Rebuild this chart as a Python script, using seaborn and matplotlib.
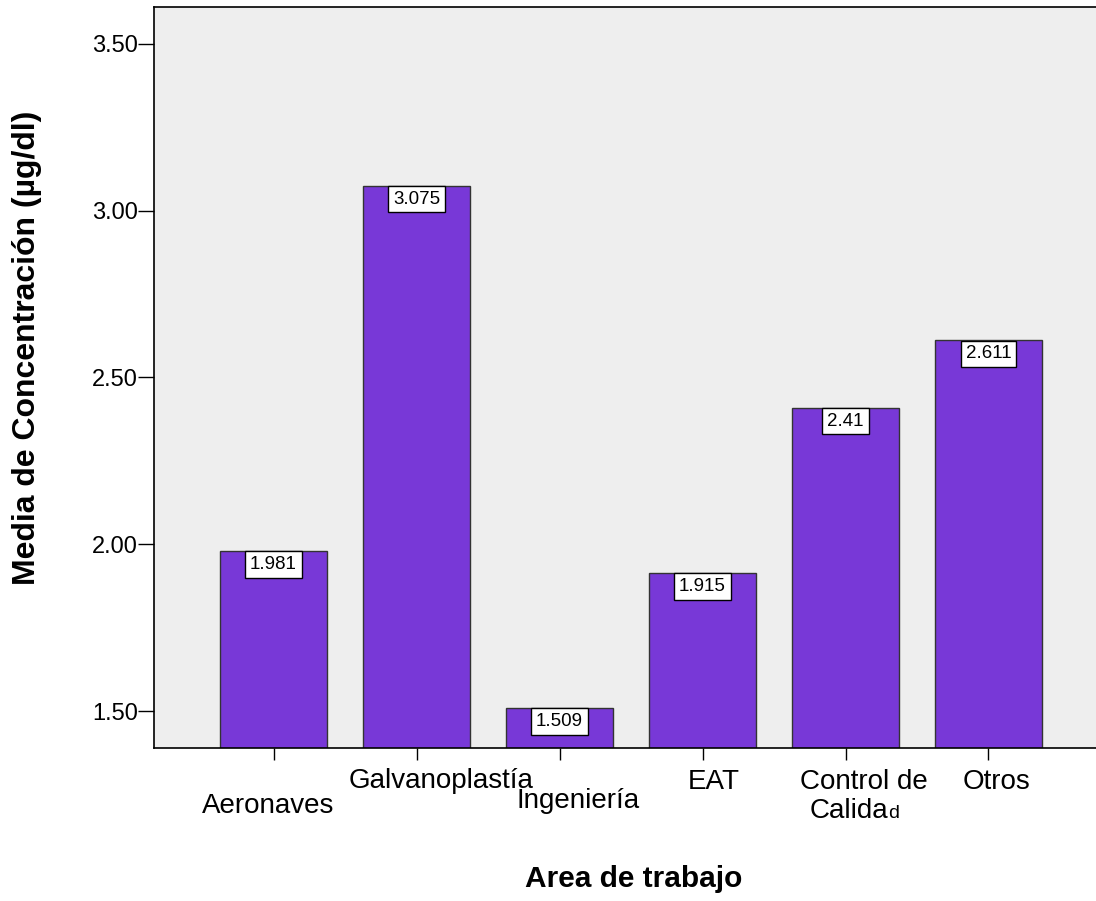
import matplotlib
matplotlib.use('Agg')
import matplotlib.pyplot as plt
import seaborn as sns

# data
areas = ['Aeronaves', 'Galvanoplastía', 'Ingeniería', 'EAT', 'Control de Calidad', 'Otros']
medias = [1.981, 3.075, 1.509, 1.915, 2.41, 2.611]
yticks = [1.50, 2.00, 2.50, 3.00, 3.50]

# hand placed category labels (SPSS style): offset in px from tick, baseline px from top
label_dx = [-5, 25, 19, 11, 18, 8]
label_base = [813, 788, 808, 789, 789, 789]

W, H = 1096, 901
sns.set_style('white')
plt.rcParams['font.family'] = ['Liberation Sans', 'DejaVu Sans']
plt.rcParams['text.color'] = 'black'
plt.rcParams['xtick.color'] = 'black'
plt.rcParams['ytick.color'] = 'black'
plt.rcParams['axes.labelcolor'] = 'black'

fig = plt.figure(figsize=(W / 100, H / 100), dpi=100)
ax = fig.add_axes([154 / W, 1 - 748.3 / H, (1118 - 154) / W, (748.3 - 6.5) / H])
ax.set_facecolor('#EEEEEE')

sns.barplot(x=areas, y=medias, color='#7838D7', saturation=1, width=0.752,
            edgecolor='#333333', linewidth=1, ax=ax, zorder=2)

ax.set_xlim(-0.8357, 5.9056)
ax.set_ylim(1.389, 3.6115)
ax.set_yticks(yticks)
ax.set_yticklabels([f'{t:.2f}' for t in yticks])
ax.tick_params(axis='y', direction='out', length=11.5, width=1, pad=0,
               labelsize=17, colors='black', left=True)
ax.tick_params(axis='x', direction='out', length=8.6, width=1, color='black',
               labelbottom=False, bottom=True)
for s in ax.spines.values():
    s.set_color('black')
    s.set_linewidth(1.2)
ax.set_xlabel('')
ax.set_ylabel('')

# value boxes hanging from the top of each bar
for i, v in enumerate(medias):
    ax.annotate(f'{v:g}', xy=(i, v), xytext=(0, -5), textcoords='offset pixels',
                ha='center', va='top', fontsize=13.5, color='black', zorder=5,
                bbox=dict(boxstyle='square,pad=0.26', fc='white', ec='black', lw=1))

# category labels
for i, lab in enumerate(areas):
    xpix = ax.transData.transform((i, 0))[0] + label_dx[i]
    ypix = H - label_base[i]
    if lab == 'Control de Calidad':
        fig.text(xpix / W, ypix / H, 'Control de', ha='center', va='baseline', fontsize=20)
        y2 = (H - 818) / H
        fig.text((xpix + 25) / W, y2, 'Calida', ha='right', va='baseline', fontsize=20)
        fig.text((xpix + 25) / W, y2, 'd', ha='left', va='baseline', fontsize=14)
    else:
        fig.text(xpix / W, ypix / H, lab, ha='center', va='baseline', fontsize=20)

fig.text(634 / W, 1 - 887 / H, 'Area de trabajo', ha='center', va='baseline',
         fontsize=21.5, fontweight='bold')
fig.text(27 / W, 1 - 348 / H, 'Media de Concentración (µg/dl)', rotation=90,
         ha='center', va='center', fontsize=23, fontweight='bold')

fig.savefig('out.png', dpi=100)
